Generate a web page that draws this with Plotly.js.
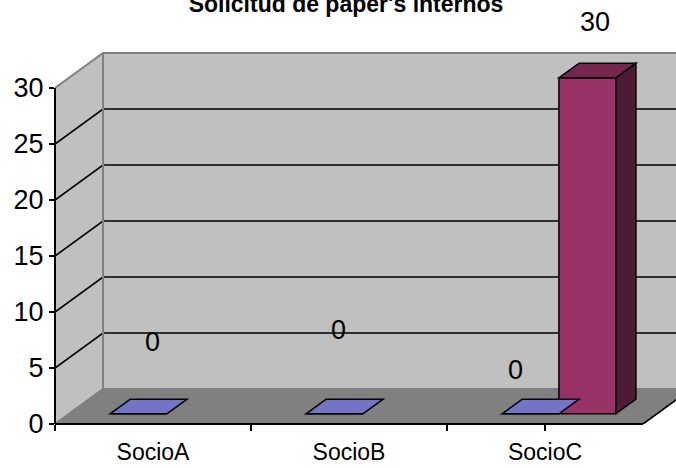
<!DOCTYPE html>
<html>
<head>
<meta charset="utf-8">
<script src="https://cdn.plot.ly/plotly-3.0.1.min.js"></script>
<style>
  html, body { margin: 0; padding: 0; background: #ffffff; }
  #chart { width: 676px; height: 468px; }
</style>
</head>
<body>
<div id="chart"></div>
<script>
// Chart data
const CATEGORIES = ['SocioA', 'SocioB', 'SocioC'];
const SERIES_1 = [0, 0, 0];
const SERIES_2 = [null, null, 30];
const Y_TICKS = [0, 5, 10, 15, 20, 25, 30];

// Pseudo-3D geometry (in axis units)
const DEPTH_X = 0.245;      // full depth, horizontal shift
const DEPTH_Y = 3.125;      // full depth, vertical shift
const BAR_FRONT = 0.29;     // depth fraction where the bars start
const BAR_BACK = 0.71;      // depth fraction where the bars end
const BAR_W = 0.29;
const Y_MAX = 30;
const X_MIN = -0.5, X_MAX = CATEGORIES.length - 0.5;

// Data-label placement (axis units)
const LABEL_POS_1 = [[-0.005, 7.32], [0.944, 8.39], [1.847, 4.82]];
const LABEL_POS_2 = [null, null, [2.255, 35.9]];

const FONT = 'Liberation Sans, Arial, sans-serif';
const COL_1 = '#7474C6';
const COL_2 = '#993366';
const COL_2_TOP = '#772650';
const COL_2_SIDE = '#4E1B35';

const lift = BAR_FRONT * DEPTH_Y;
const shiftX = BAR_FRONT * DEPTH_X;
const bdx = (BAR_BACK - BAR_FRONT) * DEPTH_X;
const bdy = (BAR_BACK - BAR_FRONT) * DEPTH_Y;
const xIdx = CATEGORIES.map((_, i) => i);

const pxTop = 50, pxZero = 424, pxMax = 88;
const yTop = Y_MAX + (pxMax - pxTop) / ((pxZero - pxMax) / Y_MAX);
const xRight = X_MAX + 33 / 196;

function poly(pts) {
  return 'M' + pts.map(p => p[0] + ',' + p[1]).join('L') + 'Z';
}
function line(pts) {
  return 'M' + pts.map(p => p[0] + ',' + p[1]).join('L');
}

const shapes = [];
const FAR = X_MAX + 1;

// side wall, back wall, floor
shapes.push({type: 'path', xref: 'x', yref: 'y', layer: 'below',
  path: poly([[X_MIN, 0], [X_MIN + DEPTH_X, DEPTH_Y], [X_MIN + DEPTH_X, Y_MAX + DEPTH_Y], [X_MIN, Y_MAX]]),
  fillcolor: '#C0C0C0', line: {width: 0}});
shapes.push({type: 'path', xref: 'x', yref: 'y', layer: 'below',
  path: poly([[X_MIN + DEPTH_X, DEPTH_Y], [FAR, DEPTH_Y], [FAR, Y_MAX + DEPTH_Y], [X_MIN + DEPTH_X, Y_MAX + DEPTH_Y]]),
  fillcolor: '#C0C0C0', line: {width: 0}});
shapes.push({type: 'path', xref: 'x', yref: 'y', layer: 'below',
  path: poly([[X_MIN, 0], [X_MAX, 0], [X_MAX + DEPTH_X, DEPTH_Y], [X_MIN + DEPTH_X, DEPTH_Y]]),
  fillcolor: '#808080', line: {width: 0}});

// gridlines on side and back wall
Y_TICKS.forEach(v => {
  const edge = (v === 0 || v === Y_MAX);
  shapes.push({type: 'path', xref: 'x', yref: 'y', layer: 'below',
    path: line([[X_MIN, v], [X_MIN + DEPTH_X, v + DEPTH_Y], [FAR, v + DEPTH_Y]]),
    line: {color: edge ? '#808080' : '#000000', width: edge ? 2 : 1.6}});
});
// wall corner and floor right edge
shapes.push({type: 'path', xref: 'x', yref: 'y', layer: 'below',
  path: line([[X_MIN + DEPTH_X, DEPTH_Y], [X_MIN + DEPTH_X, Y_MAX + DEPTH_Y]]),
  line: {color: '#808080', width: 2}});
shapes.push({type: 'path', xref: 'x', yref: 'y', layer: 'below',
  path: line([[X_MAX, 0], [X_MAX + DEPTH_X, DEPTH_Y]]),
  line: {color: '#000000', width: 1.6}});

// axis lines
shapes.push({type: 'line', xref: 'paper', yref: 'y', x0: 0, x1: 0, y0: 0, y1: Y_MAX,
  line: {color: '#000000', width: 2}});
shapes.push({type: 'line', xref: 'x', yref: 'paper', x0: X_MIN, x1: X_MAX, y0: 0, y1: 0,
  line: {color: '#000000', width: 2}});

// top and side faces of the bars
const series = [
  {vals: SERIES_1, off: shiftX - BAR_W, front: COL_1, top: COL_1, side: COL_1},
  {vals: SERIES_2, off: shiftX, front: COL_2, top: COL_2_TOP, side: COL_2_SIDE}
];
series.forEach(s => {
  s.vals.forEach((v, i) => {
    if (v === null) return;
    const x0 = i + s.off, x1 = x0 + BAR_W, yt = lift + v;
    if (v > 0) {
      shapes.push({type: 'path', xref: 'x', yref: 'y', layer: 'above',
        path: poly([[x1, lift], [x1, yt], [x1 + bdx, yt + bdy], [x1 + bdx, lift + bdy]]),
        fillcolor: s.side, line: {color: '#000000', width: 1.5}});
    }
    shapes.push({type: 'path', xref: 'x', yref: 'y', layer: 'above',
      path: poly([[x0, yt], [x1, yt], [x1 + bdx, yt + bdy], [x0 + bdx, yt + bdy]]),
      fillcolor: s.top, line: {color: '#000000', width: 1.5}});
  });
});

// front faces
const traces = series.map(s => ({
  type: 'bar',
  x: xIdx,
  y: s.vals,
  base: lift,
  offset: s.off,
  width: BAR_W,
  marker: {color: s.front, line: {color: '#000000', width: 1.5}},
  hoverinfo: 'skip',
  showlegend: false
}));

// data labels (vertical position given in paper units so labels above the walls still show)
const annotations = [];
function addLabels(vals, pos) {
  vals.forEach((v, i) => {
    if (v === null || !pos[i]) return;
    annotations.push({x: pos[i][0], y: pos[i][1] / yTop, xref: 'x', yref: 'paper',
      xanchor: 'center', yanchor: 'middle',
      text: String(v), showarrow: false, font: {family: FONT, size: 27, color: '#000'}});
  });
}
addLabels(SERIES_1, LABEL_POS_1);
addLabels(SERIES_2, LABEL_POS_2);

const layout = {
  width: 676, height: 468,
  margin: {l: 55, r: 0, t: pxTop, b: 468 - pxZero, pad: 0},
  paper_bgcolor: '#ffffff',
  plot_bgcolor: '#ffffff',
  barmode: 'overlay',
  title: {
    text: "<b>Solicitud de paper's internos</b>",
    font: {family: FONT, size: 23, color: '#000'},
    xref: 'container', yref: 'container',
    x: 346 / 676, xanchor: 'center',
    y: 1 - 4 / 468, yanchor: 'middle'
  },
  xaxis: {
    type: 'linear', range: [X_MIN, xRight], fixedrange: true,
    tickvals: xIdx, ticktext: CATEGORIES, ticks: '',
    ticklabelstandoff: 12,
    showgrid: false, zeroline: false, showline: false,
    tickfont: {family: FONT, size: 23, color: '#000'}
  },
  xaxis2: {
    type: 'linear', range: [X_MIN, xRight], overlaying: 'x', side: 'bottom',
    tickvals: xIdx.concat([X_MAX]).map(v => v - 0.5),
    ticks: 'outside', ticklen: 6, tickwidth: 1.5, tickcolor: '#000',
    showticklabels: false, showgrid: false, zeroline: false, showline: false
  },
  yaxis: {
    range: [0, yTop], fixedrange: true,
    tickvals: Y_TICKS, ticks: 'outside', ticklen: 5, tickwidth: 1.5, tickcolor: '#000',
    showgrid: false, zeroline: false, showline: false,
    tickfont: {family: FONT, size: 27, color: '#000'}
  },
  shapes: shapes,
  annotations: annotations
};

// invisible trace so the tick-only axis is drawn
traces.push({type: 'scatter', x: [X_MIN], y: [0], xaxis: 'x2', mode: 'markers',
  marker: {opacity: 0}, hoverinfo: 'skip', showlegend: false});

Plotly.newPlot('chart', traces, layout, {displayModeBar: false, staticPlot: true});
</script>
</body>
</html>
